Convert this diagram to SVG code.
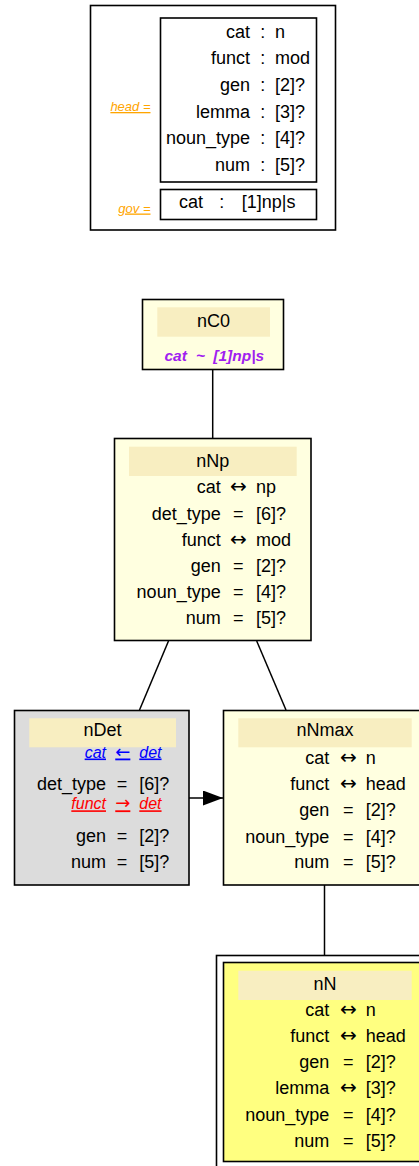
<svg xmlns="http://www.w3.org/2000/svg" width="419" height="1166" viewBox="0 0 419 1166">
<style>
text{font-family:"Liberation Sans",Arial,sans-serif;font-size:18px;fill:#000}
.k{text-anchor:end}
.o{text-anchor:middle}
.a{text-anchor:middle;font-family:"DejaVu Sans",sans-serif;font-size:20px}
.v{text-anchor:start}
.t{text-anchor:middle}
.box{stroke:#000;stroke-width:1.6}
.band{fill:#F8EEC1}
.lbl{font-size:13px;font-style:italic;fill:#FFA500;text-decoration:underline}
.blue{font-size:16px;font-style:italic;fill:#0000FF;text-decoration:underline}
.red{font-size:16px;font-style:italic;fill:#FF0000;text-decoration:underline}
.sa{font-family:"DejaVu Sans",sans-serif;font-style:normal;font-size:18px;text-anchor:middle}
.pur{font-size:15.5px;font-style:italic;font-weight:bold;fill:#A020F0}
.edge{stroke:#000;stroke-width:1.5;fill:none}
</style>
<defs>
<marker id="ah" markerWidth="20" markerHeight="15" refX="20" refY="7.5" orient="auto" markerUnits="userSpaceOnUse">
<path d="M0,0 L20,7.5 L0,15 Z" fill="#000"/>
</marker>
</defs>

<g id="legend">
<rect x="90.5" y="5.5" width="245" height="224.5" fill="#fff" class="box"/>
<rect x="160.5" y="18" width="156" height="164" fill="#fff" class="box"/>
<rect x="160.5" y="189.5" width="156" height="30" fill="#fff" class="box"/>
<text x="150.5" y="111" class="lbl" text-anchor="end">head =</text>
<text x="150.5" y="212.5" class="lbl" text-anchor="end">gov =</text>
<text x="250" y="37.7" class="k">cat</text><text x="262.7" y="37.7" class="o">:</text><text x="275" y="37.7" class="v">n</text>
<text x="250" y="64.3" class="k">funct</text><text x="262.7" y="64.3" class="o">:</text><text x="275" y="64.3" class="v">mod</text>
<text x="250" y="90.9" class="k">gen</text><text x="262.7" y="90.9" class="o">:</text><text x="275" y="90.9" class="v">[2]?</text>
<text x="250" y="117.5" class="k">lemma</text><text x="262.7" y="117.5" class="o">:</text><text x="275" y="117.5" class="v">[3]?</text>
<text x="250" y="144.1" class="k">noun_type</text><text x="262.7" y="144.1" class="o">:</text><text x="275" y="144.1" class="v">[4]?</text>
<text x="250" y="170.7" class="k">num</text><text x="262.7" y="170.7" class="o">:</text><text x="275" y="170.7" class="v">[5]?</text>
<text x="179" y="207.5" class="v">cat</text><text x="221.7" y="207.5" class="o">:</text><text x="241.7" y="207.5" class="v">[1]np|s</text>
</g>

<g id="connectors">
<line x1="212.7" y1="369" x2="212.7" y2="438" class="edge"/>
<line x1="168.5" y1="641" x2="139.5" y2="710" class="edge"/>
<line x1="256.7" y1="641" x2="286" y2="710" class="edge"/>
<line x1="189" y1="798" x2="223" y2="798" class="edge" marker-end="url(#ah)"/>
<line x1="324.5" y1="885" x2="324.5" y2="955" class="edge"/>
</g>

<g id="nC0">
<rect x="142.5" y="299.5" width="141" height="70" fill="#FFFFE0" class="box"/>
<rect x="157.3" y="307.3" width="112.7" height="29.4" class="band"/>
<text x="213.6" y="327" class="t">nC0</text>
<text x="164.5" y="360.7" class="pur">cat</text>
<text x="200.5" y="360.7" class="pur" text-anchor="middle">~</text>
<text x="213.3" y="360.7" class="pur">[1]np|s</text>
</g>

<g id="nNp">
<rect x="114.5" y="438.5" width="196.5" height="202" fill="#FFFFE0" class="box"/>
<rect x="129" y="446.7" width="167.7" height="29.3" class="band"/>
<text x="212.8" y="466.5" class="t">nNp</text>
<text x="220.7" y="493.3" class="k">cat</text><text x="238.3" y="493.3" class="a">↔</text><text x="256" y="493.3" class="v">np</text>
<text x="220.7" y="519.8" class="k">det_type</text><text x="238.3" y="519.8" class="o">=</text><text x="256" y="519.8" class="v">[6]?</text>
<text x="220.7" y="545.8" class="k">funct</text><text x="238.3" y="545.8" class="a">↔</text><text x="256" y="545.8" class="v">mod</text>
<text x="220.7" y="571.9" class="k">gen</text><text x="238.3" y="571.9" class="o">=</text><text x="256" y="571.9" class="v">[2]?</text>
<text x="220.7" y="598.1" class="k">noun_type</text><text x="238.3" y="598.1" class="o">=</text><text x="256" y="598.1" class="v">[4]?</text>
<text x="220.7" y="624.3" class="k">num</text><text x="238.3" y="624.3" class="o">=</text><text x="256" y="624.3" class="v">[5]?</text>
</g>

<g id="nDet">
<rect x="14.5" y="710.5" width="174.5" height="174.5" fill="#DCDCDC" class="box"/>
<rect x="29.3" y="718.3" width="146.7" height="29" class="band"/>
<text x="102.6" y="736.3" class="t">nDet</text>
<text x="106" y="757.5" class="blue" text-anchor="end">cat</text><text x="122.8" y="757.5" class="blue sa">←</text><text x="139.3" y="757.5" class="blue">det</text>
<text x="106" y="790" class="k">det_type</text><text x="122" y="790" class="o">=</text><text x="139.3" y="790" class="v">[6]?</text>
<text x="106" y="809.3" class="red" text-anchor="end">funct</text><text x="122.8" y="809.3" class="red sa">→</text><text x="139.3" y="809.3" class="red">det</text>
<text x="106" y="841.9" class="k">gen</text><text x="122" y="841.9" class="o">=</text><text x="139.3" y="841.9" class="v">[2]?</text>
<text x="106" y="868.3" class="k">num</text><text x="122" y="868.3" class="o">=</text><text x="139.3" y="868.3" class="v">[5]?</text>
</g>

<g id="nNmax">
<rect x="223.5" y="710.5" width="200" height="174.5" fill="#FFFFE0" class="box"/>
<rect x="238.3" y="718.3" width="173.4" height="29" class="band"/>
<text x="325" y="736.3" class="t">nNmax</text>
<text x="329.3" y="764" class="k">cat</text><text x="348.3" y="764" class="a">↔</text><text x="365.7" y="764" class="v">n</text>
<text x="329.3" y="790" class="k">funct</text><text x="348.3" y="790" class="a">↔</text><text x="365.7" y="790" class="v">head</text>
<text x="329.3" y="816.2" class="k">gen</text><text x="348.3" y="816.2" class="o">=</text><text x="365.7" y="816.2" class="v">[2]?</text>
<text x="329.3" y="842.5" class="k">noun_type</text><text x="348.3" y="842.5" class="o">=</text><text x="365.7" y="842.5" class="v">[4]?</text>
<text x="329.3" y="868.3" class="k">num</text><text x="348.3" y="868.3" class="o">=</text><text x="365.7" y="868.3" class="v">[5]?</text>
</g>

<g id="nN">
<rect x="216.5" y="955.5" width="220" height="220" fill="#fff" class="box"/>
<rect x="223.5" y="962.5" width="210" height="199" fill="#FFFF80" class="box"/>
<rect x="238.3" y="970.7" width="173.4" height="29.3" class="band"/>
<text x="325" y="989.5" class="t">nN</text>
<text x="329.3" y="1016" class="k">cat</text><text x="348.3" y="1016" class="a">↔</text><text x="365.7" y="1016" class="v">n</text>
<text x="329.3" y="1041.9" class="k">funct</text><text x="348.3" y="1041.9" class="a">↔</text><text x="365.7" y="1041.9" class="v">head</text>
<text x="329.3" y="1068.2" class="k">gen</text><text x="348.3" y="1068.2" class="o">=</text><text x="365.7" y="1068.2" class="v">[2]?</text>
<text x="329.3" y="1094.4" class="k">lemma</text><text x="348.3" y="1094.4" class="a">↔</text><text x="365.7" y="1094.4" class="v">[3]?</text>
<text x="329.3" y="1120.8" class="k">noun_type</text><text x="348.3" y="1120.8" class="o">=</text><text x="365.7" y="1120.8" class="v">[4]?</text>
<text x="329.3" y="1146.7" class="k">num</text><text x="348.3" y="1146.7" class="o">=</text><text x="365.7" y="1146.7" class="v">[5]?</text>
</g>
</svg>
